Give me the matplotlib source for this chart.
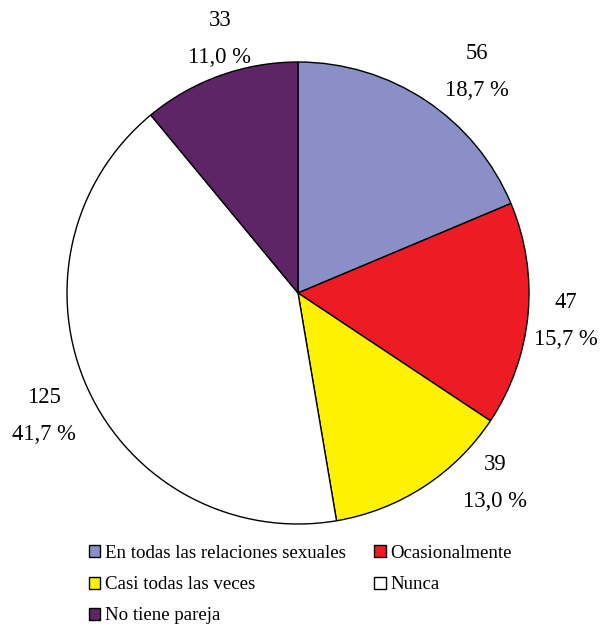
import matplotlib.pyplot as plt
from matplotlib.patches import Patch

plt.rcParams['font.family'] = ['Liberation Serif', 'DejaVu Serif']

# datos de la encuesta
categorias = ['En todas las relaciones sexuales', 'Ocasionalmente',
              'Casi todas las veces', 'Nunca', 'No tiene pareja']
valores = [56, 47, 39, 125, 33]
colores = ['#8a8fc8', '#ed1c24', '#fff200', '#ffffff', '#5d2566']

total = sum(valores)
etiquetas = ['{}\n{:.1f} %'.format(v, 100 * v / total).replace('.', ',') for v in valores]

# posiciones de las etiquetas (pixeles, origen abajo a la izquierda)
pos_etiquetas = [(477, 555), (566, 306), (495, 144), (44, 211), (220, 588)]

fig = plt.figure(figsize=(6.08, 6.27), dpi=100)
ax = fig.add_axes([0, 0, 1, 1])
ax.axis('off')

ax.pie(valores, colors=colores, startangle=90, counterclock=False,
       center=(298, 334), radius=231,
       wedgeprops=dict(edgecolor='black', linewidth=1.0))
ax.set_aspect('auto')
ax.set_xlim(0, 608)
ax.set_ylim(0, 627)

for txt, (x, y) in zip(etiquetas, pos_etiquetas):
    ax.text(x, y, txt, ha='center', va='center', fontsize=16.3, linespacing=2.05)

# leyenda en dos columnas
orden = [0, 2, 4, 1, 3]
handles = [Patch(facecolor=colores[i], edgecolor='black', linewidth=1.0) for i in orden]
fig.legend(handles, [categorias[i] for i in orden], ncol=2, frameon=False,
           loc='upper left', bbox_to_anchor=(89 / 608, 1 - 545 / 627),
           fontsize=13.6, handlelength=0.6, handleheight=0.6, handletextpad=0.25,
           labelspacing=0.75, columnspacing=1.5, borderpad=0, borderaxespad=0)

fig.savefig('out.png', dpi=100)
